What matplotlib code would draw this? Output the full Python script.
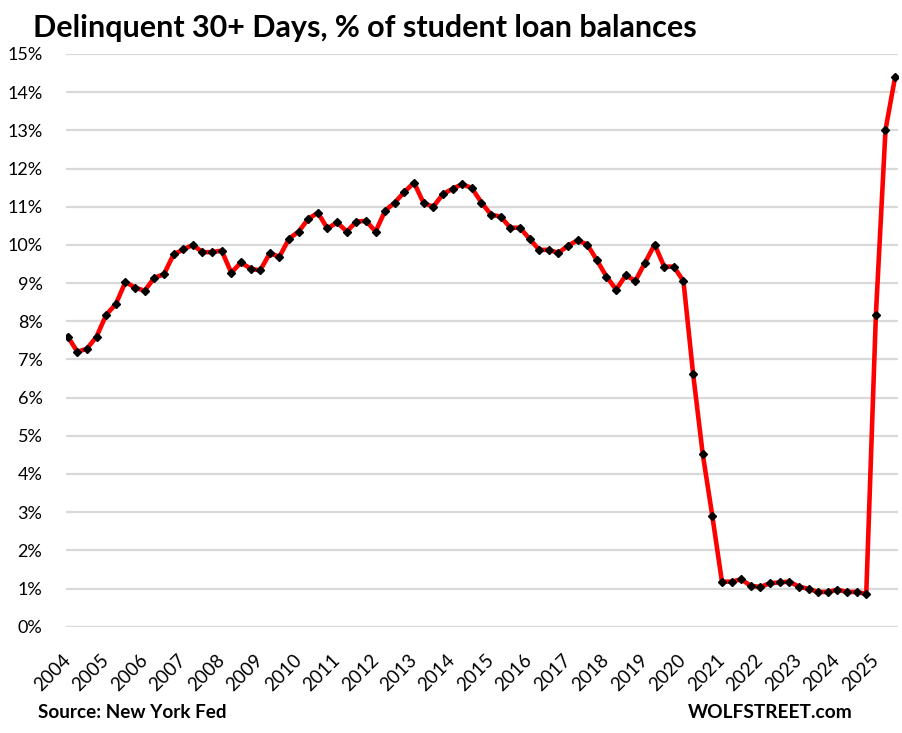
import matplotlib
matplotlib.use("Agg")
import matplotlib.pyplot as plt
import numpy as np

# quarterly, 2004 Q1 .. 2025 Q3, % of balances 30+ days delinquent
delinquency = [
    7.60, 7.20, 7.28, 7.60,     # 2004
    8.17, 8.45, 9.03, 8.88,     # 2005
    8.80, 9.14, 9.23, 9.75,     # 2006
    9.88, 10.00, 9.81, 9.81,    # 2007
    9.85, 9.27, 9.54, 9.38,     # 2008
    9.33, 9.78, 9.69, 10.16,    # 2009
    10.35, 10.68, 10.84, 10.43,  # 2010
    10.59, 10.35, 10.61, 10.63,  # 2011
    10.35, 10.90, 11.11, 11.39,  # 2012
    11.63, 11.09, 11.00, 11.33,  # 2013
    11.47, 11.59, 11.49, 11.11,  # 2014
    10.79, 10.74, 10.45, 10.45,  # 2015
    10.16, 9.87, 9.87, 9.79,    # 2016
    9.98, 10.12, 10.01, 9.60,   # 2017
    9.17, 8.83, 9.20, 9.06,     # 2018
    9.53, 10.01, 9.43, 9.43,    # 2019
    9.05, 6.63, 4.53, 2.90,     # 2020
    1.18, 1.18, 1.24, 1.07,     # 2021
    1.04, 1.14, 1.16, 1.18,     # 2022
    1.05, 0.99, 0.91, 0.91,     # 2023
    0.97, 0.91, 0.91, 0.86,     # 2024
    8.16, 13.01, 14.40,         # 2025
]
year_labels = ["2004", "2005", "2006", "2007", "2008", "2009", "2010",
               "2011", "2012", "2013", "2014", "2015", "2016", "2017",
               "2018", "2019", "2020", "2021", "2022", "2023", "2024",
               "2025"]
y_ticks = [0, 1, 2, 3, 4, 5, 6, 7, 8, 9, 10, 11, 12, 13, 14, 15]

plt.rcParams['font.family'] = ['Lato', 'DejaVu Sans']

fig = plt.figure(figsize=(9.03, 7.33), dpi=100)
ax = fig.add_axes([66 / 903, 106.3 / 733, 832 / 903, 572.7 / 733])

x = np.arange(len(delinquency))
ax.plot(x, delinquency, color='#ff0000', linewidth=3.3, zorder=3,
        solid_joinstyle='round')
ax.plot(x, delinquency, linestyle='none', marker='D', markersize=4.2,
        color='black', zorder=4)

ax.set_ylim(0, 15)
ax.set_xlim(-0.18, 86.3)
ax.set_yticks(y_ticks)
ax.set_yticklabels([str(t) + "%" for t in y_ticks])
ax.yaxis.grid(True, color='#d9d9d9', linewidth=1.6, zorder=0)
ax.set_axisbelow(True)

# one label per year, at the first quarter
ax.set_xticks(x[::4])
ax.set_xticklabels(year_labels, rotation=45, ha='right', va='center',
                   rotation_mode='anchor')

ax.tick_params(axis='y', length=0, pad=17, labelsize=13, labelcolor='black')
ax.tick_params(axis='x', length=0, pad=22, labelsize=13.5, labelcolor='black')
for side in ["top", "right", "bottom", "left"]:
    ax.spines[side].set_visible(False)

fig.text(33 / 903, 1 - 28 / 733, "Delinquent 30+ Days, % of student loan balances",
         fontsize=22, fontweight='bold', va='center', ha='left')
fig.text(38 / 903, 1 - 713 / 733, "Source: New York Fed",
         fontsize=13.6, fontweight='bold', va='center', ha='left')
fig.text(688 / 903, 1 - 713 / 733, "WOLFSTREET.com",
         fontsize=13.8, fontweight='bold', va='center', ha='left')

fig.savefig("out.png", dpi=100)
plt.close()
